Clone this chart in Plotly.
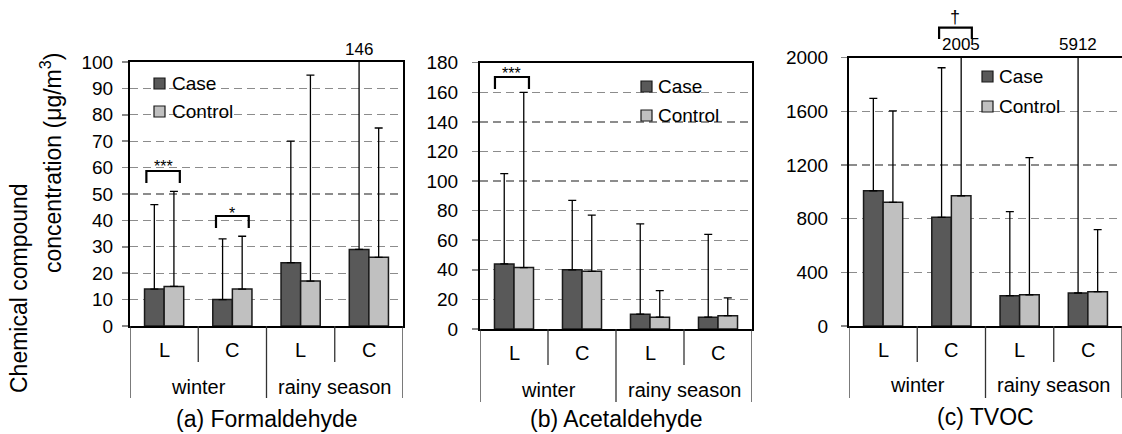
import plotly.graph_objects as go

W, H = 1122, 434
FONT = "Arial, 'Liberation Sans', sans-serif"

# ---------------- data ----------------
sites = ["L", "C", "L", "C"]
seasons = ["winter", "rainy season"]
series_names = ["Case", "Control"]

formaldehyde_case = [14, 10, 24, 29]
formaldehyde_case_upper = [46, 33, 70, 146]
formaldehyde_ctrl = [15, 14, 17, 26]
formaldehyde_ctrl_upper = [51, 34, 95, 75]

acetaldehyde_case = [44, 40, 10, 8]
acetaldehyde_case_upper = [105, 87, 71, 64]
acetaldehyde_ctrl = [41.5, 39, 8, 9]
acetaldehyde_ctrl_upper = [160, 77, 26, 21]

tvoc_case = [1008, 810, 226, 246]
tvoc_case_upper = [1697, 1925, 852, 5912]
tvoc_ctrl = [922, 971, 233, 256]
tvoc_ctrl_upper = [1603, 2005, 1255, 718]

panel_titles = ["(a) Formaldehyde", "(b) Acetaldehyde", "(c) TVOC"]
y_max = [100, 180, 2000]
y_step = [10, 20, 400]

# significance marks: (panel, category index, mark)
significance = [(0, 0, "***"), (0, 1, "*"), (1, 0, "***"), (2, 1, "\u2020")]

# ---------------- layout geometry (pixels) ----------------
CASE_COLOR = "#595959"
CTRL_COLOR = "#c0c0c0"
EDGE = "#1a1a1a"

geo = [
    dict(px=(130, 403), py=(62, 326), lab=(350, 387, 419), div=(362, 398), standoff=5,
         leg_box=(131, 68, 253, 126), leg_sq=154, leg_rows=(83.5, 111.5), leg_tx=170),
    dict(px=(480, 752), py=(62.7, 329), lab=(353, 390, 419), div=(365, 402), standoff=10,
         leg_box=(623, 72, 737, 131), leg_sq=641, leg_rows=(86.5, 115.5), leg_tx=656),
    dict(px=(849, 1122), py=(57.7, 326), lab=(350, 385, 417), div=(362, 398), standoff=9,
         leg_box=(972, 62, 1079, 122), leg_sq=982, leg_rows=(76.5, 106.5), leg_tx=997),
]
# bracket geometry: left/right offsets (category units), top & leg y (px), text y (px), font size
bracket_geo = [
    dict(dl=-0.26, dr=0.23, top=171, leg=183, ty=167, fs=16),
    dict(dl=-0.24, dr=0.24, top=216, leg=228, ty=213, fs=16),
    dict(dl=-0.28, dr=0.22, top=77, leg=89, ty=73, fs=16),
    dict(dl=-0.18, dr=0.30, top=27.7, leg=39, ty=17, fs=18),
]


def xp(p):
    return p / W


def yp(p):
    return 1 - p / H


data = [
    (formaldehyde_case, formaldehyde_case_upper, formaldehyde_ctrl, formaldehyde_ctrl_upper),
    (acetaldehyde_case, acetaldehyde_case_upper, acetaldehyde_ctrl, acetaldehyde_ctrl_upper),
    (tvoc_case, tvoc_case_upper, tvoc_ctrl, tvoc_ctrl_upper),
]

fig = go.Figure()
shapes = []
annotations = []
xpos = list(range(len(sites)))
BAR_W = 0.287

for i, (case, case_up, ctrl, ctrl_up) in enumerate(data):
    n = "" if i == 0 else str(i + 1)
    xa, ya = "x" + n, "y" + n
    g = geo[i]
    for name, vals, ups, col, off in [
        (series_names[0], case, case_up, CASE_COLOR, -BAR_W / 2),
        (series_names[1], ctrl, ctrl_up, CTRL_COLOR, BAR_W / 2),
    ]:
        fig.add_trace(go.Bar(
            x=xpos, y=vals, name=name, xaxis=xa, yaxis=ya, showlegend=False,
            hoverinfo="skip",
            marker=dict(color=col, line=dict(color=EDGE, width=1.5)),
            error_y=dict(type="data", symmetric=False,
                         array=[u - v for u, v in zip(ups, vals)],
                         arrayminus=[0] * len(vals),
                         color="black", thickness=1.3, width=4),
        ))
        # value labels for whiskers exceeding the axis
        for k, u in enumerate(ups):
            if u > y_max[i]:
                annotations.append(dict(
                    x=k + off, xref=xa, y=yp(g["py"][0] - 13), yref="paper",
                    text=str(u), showarrow=False, xanchor="center", yanchor="middle",
                    font=dict(family=FONT, size=17, color="black")))

    fig.update_layout(**{
        ("xaxis" + n): dict(domain=[xp(g["px"][0]), xp(g["px"][1])], range=[-0.5, 3.5],
                            anchor=ya, showticklabels=False, showgrid=False, zeroline=False,
                            showline=True, linecolor="black", linewidth=2, mirror=True,
                            ticks="", automargin=False, fixedrange=True),
        ("yaxis" + n): dict(domain=[yp(g["py"][1]), yp(g["py"][0])], range=[0, y_max[i]],
                            anchor=xa, tick0=0, dtick=y_step[i], ticks="outside", ticklen=6,
                            tickwidth=1.5, tickcolor="#888888", showgrid=True,
                            gridcolor="#8c8c8c", gridwidth=1.3, griddash="8px,5px",
                            showline=True, linecolor="black", linewidth=2, mirror=True,
                            zeroline=False, ticklabelstandoff=g["standoff"], automargin=False,
                            fixedrange=True,
                            tickfont=dict(family=FONT, size=19, color="black")),
    })

    # category dividers below axis
    for b in [-0.5, 0.5, 1.5, 2.5, 3.5]:
        long = b in (-0.5, 1.5, 3.5)
        shapes.append(dict(type="line", xref=xa, yref="paper", x0=b, x1=b,
                           y0=yp(g["py"][1]), y1=yp(g["div"][1] if long else g["div"][0]),
                           line=dict(color="#333333", width=1.3)))
    for k, s in enumerate(sites):
        annotations.append(dict(x=k, xref=xa, y=yp(g["lab"][0]), yref="paper", text=s,
                                showarrow=False, xanchor="center", yanchor="middle",
                                font=dict(family=FONT, size=20, color="black")))
    for j, s in enumerate(seasons):
        annotations.append(dict(x=2 * j + 0.5, xref=xa, y=yp(g["lab"][1]), yref="paper",
                                text=s, showarrow=False, xanchor="center", yanchor="middle",
                                font=dict(family=FONT, size=20, color="black")))
    annotations.append(dict(x=1.5, xref=xa, y=yp(g["lab"][2]), yref="paper",
                            text=panel_titles[i], showarrow=False, xanchor="center",
                            yanchor="middle", font=dict(family=FONT, size=23, color="black")))

    # legend (manual)
    bx0, by0, bx1, by1 = g["leg_box"]
    shapes.append(dict(type="rect", xref="paper", yref="paper", layer="between",
                       x0=xp(bx0), x1=xp(bx1), y0=yp(by1), y1=yp(by0),
                       fillcolor="white", line=dict(width=0)))
    for name, col, ry in zip(series_names, [CASE_COLOR, CTRL_COLOR], g["leg_rows"]):
        shapes.append(dict(type="rect", xref="paper", yref="paper",
                           x0=xp(g["leg_sq"]), x1=xp(g["leg_sq"] + 11),
                           y0=yp(ry + 5.5), y1=yp(ry - 5.5),
                           fillcolor=col, line=dict(color=EDGE, width=1.2)))
        annotations.append(dict(x=xp(g["leg_tx"]), xref="paper", y=yp(ry), yref="paper",
                                text=name, showarrow=False, xanchor="left", yanchor="middle",
                                font=dict(family=FONT, size=19, color="black")))

# significance brackets
for (pi, cat, mark), bg in zip(significance, bracket_geo):
    n = "" if pi == 0 else str(pi + 1)
    xa = "x" + n
    xl, xr = cat + bg["dl"], cat + bg["dr"]
    shapes.append(dict(type="path", xref=xa, yref="paper",
                       path=f"M {xl},{yp(bg['leg'])} L {xl},{yp(bg['top'])} "
                            f"L {xr},{yp(bg['top'])} L {xr},{yp(bg['leg'])}",
                       line=dict(color="black", width=2.2)))
    annotations.append(dict(x=(xl + xr) / 2, xref=xa, y=yp(bg["ty"]), yref="paper",
                            text=mark, showarrow=False, xanchor="center", yanchor="middle",
                            font=dict(family=FONT, size=bg["fs"], color="black")))

# y-axis title (two lines)
annotations.append(dict(x=xp(19), xref="paper", y=yp(288), yref="paper",
                        text="Chemical compound", textangle=-90, showarrow=False,
                        xanchor="center", yanchor="middle",
                        font=dict(family=FONT, size=23, color="black")))
annotations.append(dict(x=xp(51), xref="paper", y=yp(163), yref="paper",
                        text="concentration (\u03bcg/m<sup>3</sup>)", textangle=-90,
                        showarrow=False, xanchor="center", yanchor="middle",
                        font=dict(family=FONT, size=23, color="black")))

fig.update_layout(
    width=W, height=H, autosize=False,
    margin=dict(l=0, r=0, t=0, b=0, pad=0, autoexpand=False),
    paper_bgcolor="white", plot_bgcolor="white",
    barmode="group", bargap=1 - 2 * BAR_W, bargroupgap=0,
    showlegend=False, hovermode=False,
    shapes=shapes, annotations=annotations,
)

fig.write_html("out.html", config={"displayModeBar": False, "staticPlot": True},
               post_script="document.body.style.margin='0px';")
